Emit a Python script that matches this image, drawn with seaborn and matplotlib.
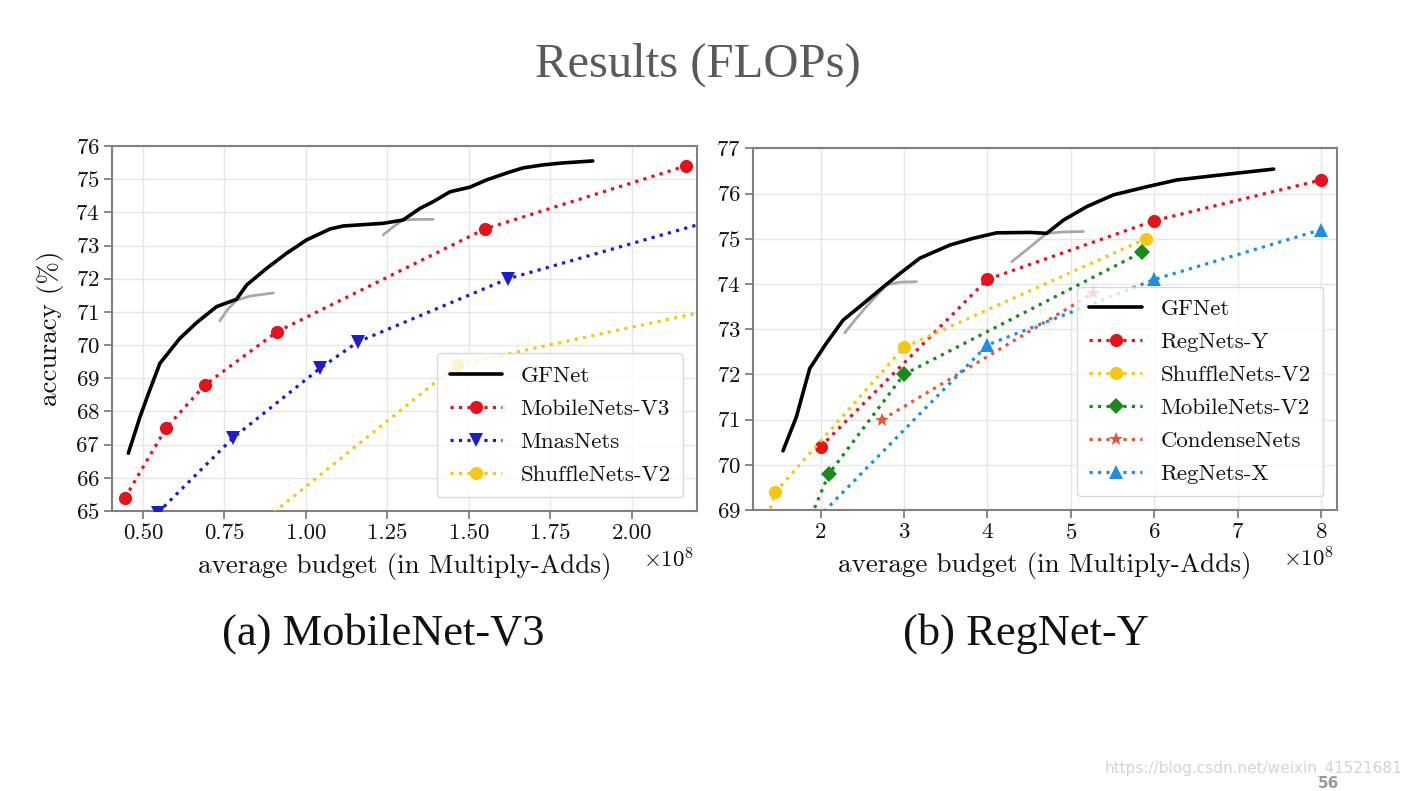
import numpy as np
import pandas as pd
import matplotlib
matplotlib.use("Agg")
import matplotlib.pyplot as plt
import seaborn as sns

# ---------------- data (x in units of 1e8 Multiply-Adds, y = accuracy %) ----------------
# (a) MobileNet-V3
gf_a_x = [0.455, 0.491, 0.521, 0.552, 0.613, 0.665, 0.726, 0.787, 0.818, 0.879, 0.941, 1.002,
          1.074, 1.114, 1.237, 1.298, 1.350, 1.390, 1.442, 1.503, 1.555, 1.617, 1.666, 1.727,
          1.788, 1.880]
gf_a_y = [66.74, 67.84, 68.65, 69.45, 70.20, 70.68, 71.16, 71.38, 71.81, 72.31, 72.77, 73.17,
          73.50, 73.59, 73.67, 73.77, 74.12, 74.32, 74.62, 74.76, 74.98, 75.19, 75.34, 75.43,
          75.49, 75.55]
mbv3_x = [0.445, 0.571, 0.690, 0.911, 1.549, 2.166]
mbv3_y = [65.4, 67.5, 68.8, 70.4, 73.5, 75.4]
mnas_x = [0.546, 0.776, 1.043, 1.160, 1.620, 2.300]
mnas_y = [64.95, 67.2, 69.3, 70.1, 72.0, 73.9]
shuf_a_x = [0.780, 1.463, 2.500]
shuf_a_y = [64.0, 69.4, 71.6]
gray_a1_x = [0.736, 0.760, 0.787, 0.830, 0.900]
gray_a1_y = [70.73, 71.08, 71.35, 71.48, 71.57]
gray_a2_x = [1.237, 1.270, 1.298, 1.340, 1.390]
gray_a2_y = [73.32, 73.58, 73.77, 73.79, 73.79]

# (b) RegNet-Y
gf_b_x = [1.55, 1.71, 1.87, 2.07, 2.27, 2.47, 2.71, 2.95, 3.19, 3.55, 3.83, 4.11, 4.51,
          4.71, 4.91, 5.19, 5.51, 5.91, 6.27, 6.79, 7.43]
gf_b_y = [70.31, 71.06, 72.13, 72.69, 73.20, 73.50, 73.87, 74.23, 74.57, 74.86, 75.01, 75.13,
          75.14, 75.12, 75.41, 75.71, 75.97, 76.15, 76.30, 76.41, 76.54]
regy_x = [2.0, 4.0, 6.0, 8.0]
regy_y = [70.4, 74.1, 75.4, 76.3]
shuf_b_x = [1.30, 1.46, 3.0, 5.9]
shuf_b_y = [68.5, 69.4, 72.6, 75.0]
mbv2_x = [1.85, 2.10, 3.0, 5.85]
mbv2_y = [68.7, 69.8, 72.0, 74.7]
cond_x = [2.74, 5.27]
cond_y = [71.0, 73.8]
regx_x = [1.90, 4.0, 6.0, 8.0]
regx_y = [68.7, 72.65, 74.1, 75.2]
gray_b1_x = [2.29, 2.42, 2.55, 2.79, 2.95, 3.15]
gray_b1_y = [72.92, 73.22, 73.50, 73.98, 74.04, 74.05]
gray_b2_x = [4.29, 4.50, 4.71, 4.90, 5.15]
gray_b2_y = [74.49, 74.80, 75.12, 75.15, 75.16]

xt_a = [0.50, 0.75, 1.00, 1.25, 1.50, 1.75, 2.00]
yt_a = list(range(65, 77))
xt_b = [2, 3, 4, 5, 6, 7, 8]
yt_b = list(range(69, 78))

# ---------------- style ----------------
sns.set_theme(style="whitegrid")
plt.rcParams["font.family"] = ["cmr10", "DejaVu Serif"]
plt.rcParams["mathtext.fontset"] = "cm"
plt.rcParams["axes.formatter.use_mathtext"] = True
plt.rcParams["axes.unicode_minus"] = False

SPINE = "#808080"
GRID = "#e6e6e6"

fig = plt.figure(figsize=(14.09, 7.91), dpi=100)
fig.patch.set_facecolor("white")
ax_a = fig.add_axes([0.0795, 0.354, 0.4152, 0.4614])
ax_b = fig.add_axes([0.5344, 0.3552, 0.4145, 0.4573])

LW = 2.3
MS = 9.5


def dotted(ax, x, y, color, marker, label, ms=MS):
    sns.lineplot(x=x, y=y, ax=ax, color=color, marker=marker, linestyle=":", linewidth=LW,
                 markersize=ms, markeredgewidth=0, label=label, sort=False, zorder=3)


def gray(ax, x, y):
    sns.lineplot(x=x, y=y, ax=ax, color="#a8a8a8", linewidth=2.0, sort=False, zorder=2,
                 solid_joinstyle="round", solid_capstyle="round")


# (a)
sns.lineplot(x=gf_a_x, y=gf_a_y, ax=ax_a, color="black", linewidth=2.6, label="GFNet",
             sort=False, zorder=4, solid_joinstyle="round")
gray(ax_a, gray_a1_x, gray_a1_y)
gray(ax_a, gray_a2_x, gray_a2_y)
dotted(ax_a, mbv3_x, mbv3_y, "#e3121b", "o", "MobileNets-V3")
dotted(ax_a, mnas_x, mnas_y, "#1d1dcc", "v", "MnasNets")
dotted(ax_a, shuf_a_x, shuf_a_y, "#f7c614", "o", "ShuffleNets-V2")

# (b)
sns.lineplot(x=gf_b_x, y=gf_b_y, ax=ax_b, color="black", linewidth=2.6, label="GFNet",
             sort=False, zorder=4, solid_joinstyle="round")
gray(ax_b, gray_b1_x, gray_b1_y)
gray(ax_b, gray_b2_x, gray_b2_y)
dotted(ax_b, regy_x, regy_y, "#e3121b", "o", "RegNets-Y")
dotted(ax_b, shuf_b_x, shuf_b_y, "#f7c614", "o", "ShuffleNets-V2")
dotted(ax_b, mbv2_x, mbv2_y, "#1a8a1a", "D", "MobileNets-V2", ms=8.5)
dotted(ax_b, cond_x, cond_y, "#e8553a", "*", "CondenseNets", ms=10)
dotted(ax_b, regx_x, regx_y, "#1e8fe0", "^", "RegNets-X")

for ax, xt, yt, xlim, ylim in [
    (ax_a, xt_a, yt_a, (0.405, 2.20), (65, 76)),
    (ax_b, xt_b, yt_b, (1.19, 8.19), (69, 77)),
]:
    ax.set_xlim(*xlim)
    ax.set_ylim(*ylim)
    ax.set_xticks(xt)
    ax.set_yticks(yt)
    ax.set_facecolor("white")
    ax.grid(True, color=GRID, linewidth=1.0)
    for s in ax.spines.values():
        s.set_color(SPINE)
        s.set_linewidth(1.5)
    ax.tick_params(axis="both", which="major", direction="out", length=6, width=1.3,
                   color=SPINE, labelsize=16.5, pad=3, labelcolor="#111111",
                   bottom=True, left=True)
    ax.set_xlabel("average budget (in Multiply-Adds)", fontsize=19.5, color="#111111",
                  labelpad=7)
    ax.set_ylabel("")
    leg = ax.legend(loc="lower right", fontsize=16.5, frameon=True, framealpha=0.8,
                    edgecolor="#d0d0d0", fancybox=True, handlelength=2.3,
                    borderpad=0.55, labelspacing=0.56, borderaxespad=0.6)
    leg.get_frame().set_linewidth(1.0)
    for t in leg.get_texts():
        t.set_color("#111111")

ax_a.set_xticklabels([f"{v:.2f}" for v in xt_a])
ax_a.set_ylabel("accuracy (%)", fontsize=19.5, color="#111111", labelpad=8)

# x10^8 offset labels
ax_a.text(0.995, -0.133, r"$\times10^{8}$", transform=ax_a.transAxes, ha="right", va="center",
          fontsize=16.5, color="#111111")
ax_b.text(0.995, -0.133, r"$\times10^{8}$", transform=ax_b.transAxes, ha="right", va="center",
          fontsize=16.5, color="#111111")

# slide texts
fig.text(0.495, 0.918, "Results (FLOPs)", ha="center", va="center", fontsize=35,
         color="#5a5a5a", family=["Liberation Serif", "DejaVu Serif"])
fig.text(0.272, 0.199, "(a) MobileNet-V3", ha="center", va="center", fontsize=32,
         color="#111111", family=["Liberation Serif", "DejaVu Serif"])
fig.text(0.728, 0.199, "(b) RegNet-Y", ha="center", va="center", fontsize=32,
         color="#111111", family=["Liberation Serif", "DejaVu Serif"])
fig.text(0.995, 0.028, "https://blog.csdn.net/weixin_41521681", ha="right", va="center",
         fontsize=11, color="#d4d4d4", family=["DejaVu Sans"])
fig.text(0.943, 0.009, "56", ha="center", va="center", fontsize=11, color="#9a9a9a",
         fontweight="bold", family=["DejaVu Sans"])

fig.savefig("out.png", dpi=100, facecolor="white")
